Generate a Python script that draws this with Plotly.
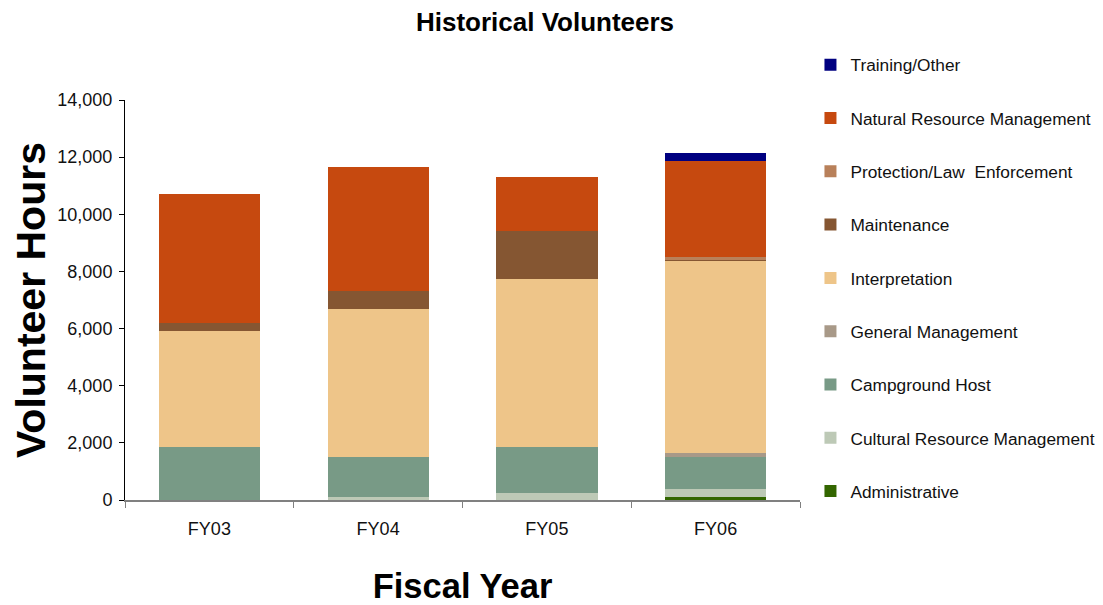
import plotly.graph_objects as go

years = ["FY03", "FY04", "FY05", "FY06"]

administrative = [0, 0, 0, 120]
cultural = [0, 120, 230, 250]
campground = [1870, 1370, 1610, 1120]
general_mgmt = [0, 0, 0, 140]
interpretation = [4060, 5180, 5910, 6760]
maintenance = [250, 630, 1680, 40]
protection = [0, 0, 0, 60]
natural_resource = [4540, 4370, 1860, 3360]
training = [0, 0, 0, 280]

series = [
    ("Administrative", administrative, "#336600"),
    ("Cultural Resource Management", cultural, "#BDC9B6"),
    ("Campground Host", campground, "#789A86"),
    ("General Management", general_mgmt, "#A89988"),
    ("Interpretation", interpretation, "#EEC589"),
    ("Maintenance", maintenance, "#855632"),
    ("Protection/Law  Enforcement", protection, "#B8805A"),
    ("Natural Resource Management", natural_resource, "#C6490F"),
    ("Training/Other", training, "#000080"),
]

FONT = "Liberation Sans, Arial, sans-serif"

fig = go.Figure()
n = len(series)
for i, (name, vals, col) in enumerate(series):
    fig.add_trace(go.Bar(
        name=name, x=years, y=vals, marker_color=col,
        marker_line_width=0, legendgroup=name, legendrank=n - i, width=0.6,
    ))

W, H = 1095, 597
fig.update_layout(
    width=W, height=H,
    barmode="stack",
    plot_bgcolor="white", paper_bgcolor="white",
    margin=dict(l=117, r=303, t=92, b=105, autoexpand=False),
    font=dict(family=FONT, size=17, color="#111111"),
    title=dict(text="<b>Historical Volunteers</b>", x=537 / W, xanchor="center", xref="container",
               y=1 - 14 / H, yref="container", yanchor="middle",
               font=dict(size=26, family=FONT, color="#000000")),
    showlegend=True,
    legend=dict(
        x=1.0155, xanchor="left", y=1.1325, yanchor="top",
        traceorder="grouped", tracegroupgap=27.8, maxheight=590,
        font=dict(size=17.3, family=FONT, color="#111111"),
        itemwidth=30, bgcolor="rgba(0,0,0,0)",
    ),
)

fig.update_yaxes(
    range=[0, 14000], dtick=2000, tickformat=",",
    showline=True, linecolor="#000000", linewidth=1,
    ticks="outside", ticklen=5, tickcolor="#000000", ticklabelstandoff=3,
    showgrid=False, zeroline=False,
    tickfont=dict(size=18, family=FONT, color="#111111"),
    title=dict(text="<b>Volunteer Hours</b>", font=dict(size=41, family=FONT, color="#000000"), standoff=14),
)
fig.update_xaxes(
    showline=True, linecolor="#808080", linewidth=2,
    ticks="outside", ticklen=6, tickcolor="#808080", tickson="boundaries",
    ticklabelstandoff=11,
    showgrid=False,
    tickfont=dict(size=18, family=FONT, color="#111111"),
    title=dict(text="<b>Fiscal Year</b>", font=dict(size=34.5, family=FONT, color="#000000"), standoff=36),
)

fig.write_html("out.html")
